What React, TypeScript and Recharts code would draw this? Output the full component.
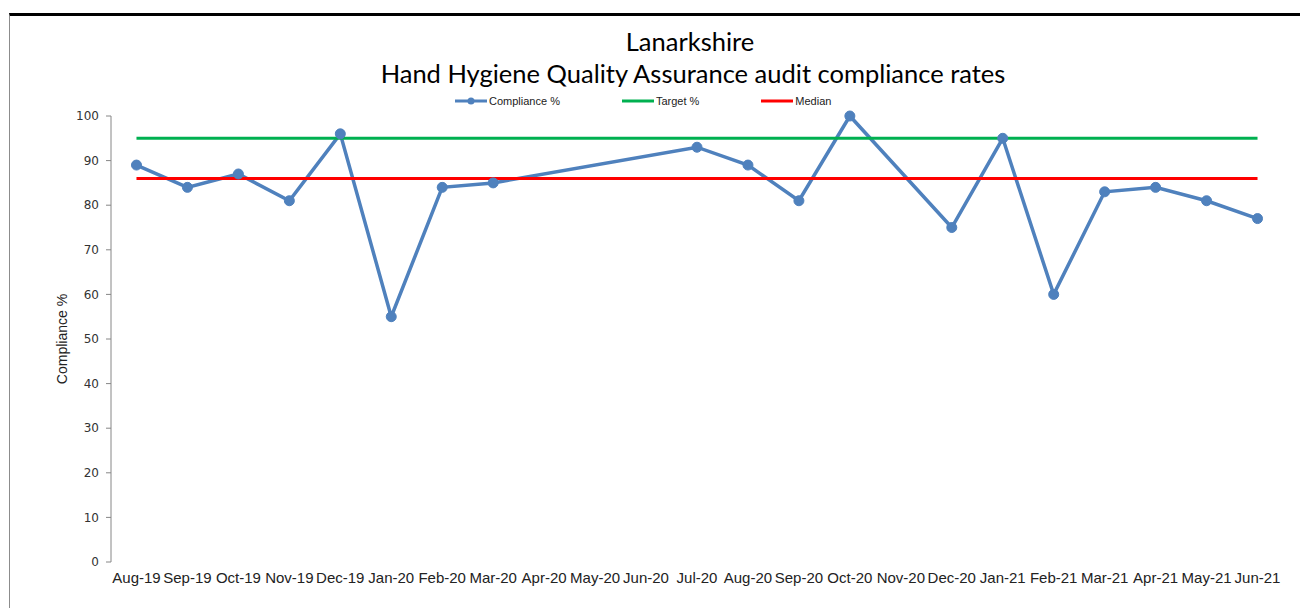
import React from 'react';
import { LineChart, Line, XAxis, YAxis, Legend, Label } from 'recharts';

const categories = [
  'Aug-19', 'Sep-19', 'Oct-19', 'Nov-19', 'Dec-19', 'Jan-20', 'Feb-20', 'Mar-20',
  'Apr-20', 'May-20', 'Jun-20', 'Jul-20', 'Aug-20', 'Sep-20', 'Oct-20', 'Nov-20',
  'Dec-20', 'Jan-21', 'Feb-21', 'Mar-21', 'Apr-21', 'May-21', 'Jun-21',
];
const complianceValues: (number | null)[] = [
  89, 84, 87, 81, 96, 55, 84, 85, null, null, null, 93, 89, 81, 100, null, 75, 95, 60, 83, 84, 81, 77,
];
const targetValue = 95;
const medianValue = 86;
const yTicks = [0, 10, 20, 30, 40, 50, 60, 70, 80, 90, 100];
const seriesNames = ['Compliance %', 'Target %', 'Median'];

const data = categories.map((month, i) => ({
  pos: i + 0.5,
  month,
  compliance: complianceValues[i],
  target: targetValue,
  median: medianValue,
}));

const boundaryTicks = [...categories.map((_, i) => i), categories.length];
const labelTicks = categories.map((_, i) => i + 0.5);

const AXIS_COLOR = '#868686';
const TEXT_COLOR = '#222222';

const LegendContent = (props: any) => {
  const payload = [...(props.payload || [])].sort(
    (a: any, b: any) => seriesNames.indexOf(a.value) - seriesNames.indexOf(b.value)
  );
  return (
    <div style={{ display: 'flex', alignItems: 'center', paddingLeft: 455, height: 16 }}>
      {payload.map((entry: any, idx: number) => (
        <div key={idx} style={{ display: 'flex', alignItems: 'center', marginRight: 62 }}>
          <svg width={33} height={10} style={{ display: 'block' }}>
            <line x1={0} y1={5} x2={32} y2={5} stroke={entry.color} strokeWidth={3} />
            {entry.value === seriesNames[0] && <circle cx={16} cy={5} r={3.5} fill={entry.color} />}
          </svg>
          <span
            style={{
              fontFamily: '"Liberation Sans", Arial, sans-serif',
              fontSize: 11,
              color: TEXT_COLOR,
              marginLeft: 1,
            }}
          >
            {entry.value}
          </span>
        </div>
      ))}
    </div>
  );
};

const YTitle = (props: any) => {
  const vb = props.viewBox || {};
  const cx = 62;
  const cy = vb.y + vb.height / 2;
  return (
    <text
      x={cx}
      y={cy}
      transform={`rotate(-90, ${cx}, ${cy})`}
      textAnchor="middle"
      dominantBaseline="central"
      fontFamily='"Liberation Sans", Arial, sans-serif'
      fontSize={14}
      fill={TEXT_COLOR}
    >
      Compliance %
    </text>
  );
};

export default function App() {
  return (
    <div style={{ position: 'absolute', left: 0, top: 0, width: 1300, height: 608, background: '#fff' }}>
      <div
        style={{
          position: 'absolute',
          left: 9,
          top: 13,
          width: 1291,
          height: 595,
          borderTop: '3px solid #000',
          borderLeft: '1px solid #8c8c8c',
          boxSizing: 'border-box',
        }}
      />
      <svg width={1300} height={100} style={{ position: 'absolute', left: 0, top: 0 }}>
        <text
          x={690}
          y={51}
          textAnchor="middle"
          fontFamily="Lato, 'Open Sans', sans-serif"
          fontSize={25.5}
          fill="#000"
        >
          Lanarkshire
        </text>
        <text
          x={693}
          y={83}
          textAnchor="middle"
          fontFamily="Lato, 'Open Sans', sans-serif"
          fontSize={25.5}
          fill="#000"
        >
          Hand Hygiene Quality Assurance audit compliance rates
        </text>
      </svg>
      <div style={{ position: 'absolute', left: 0, top: 0 }}>
        <LineChart
          width={1300}
          height={608}
          data={data}
          margin={{ top: 116, right: 17, bottom: 16, left: 0 }}
        >
          <XAxis
            xAxisId="ticks"
            type="number"
            dataKey="pos"
            domain={[0, categories.length]}
            ticks={boundaryTicks}
            interval={0}
            tickFormatter={() => ''}
            tickSize={6}
            stroke={AXIS_COLOR}
            height={0}
          />
          <XAxis
            xAxisId="labels"
            type="number"
            dataKey="pos"
            domain={[0, categories.length]}
            ticks={labelTicks}
            interval={0}
            tickFormatter={(v: number) => categories[Math.floor(v)]}
            axisLine={false}
            tickLine={false}
            tickSize={0}
            tickMargin={10}
            height={30}
            tick={{ fontFamily: '"Liberation Sans", Arial, sans-serif', fontSize: 15, fill: TEXT_COLOR }}
          />
          <YAxis
            type="number"
            domain={[0, 100]}
            ticks={yTicks}
            interval={0}
            width={111}
            tickSize={5}
            tickMargin={7}
            stroke={AXIS_COLOR}
            tick={{ fontFamily: '"DejaVu Sans", Verdana, sans-serif', fontSize: 12, fill: '#333' }}
          >
            <Label content={<YTitle />} />
          </YAxis>
          <Legend
            layout="horizontal"
            verticalAlign="middle"
            align="center"
            content={<LegendContent />}
            wrapperStyle={{ position: 'absolute', top: 93, left: 0, width: 1300 }}
          />
          <Line
            xAxisId="ticks"
            name={seriesNames[0]}
            dataKey="compliance"
            stroke="#4F81BD"
            strokeWidth={3.5}
            dot={{ r: 5, fill: '#4F81BD', stroke: '#4F81BD', strokeWidth: 1 }}
            activeDot={false}
            connectNulls
            isAnimationActive={false}
          />
          <Line
            xAxisId="ticks"
            name={seriesNames[1]}
            dataKey="target"
            stroke="#00B050"
            strokeWidth={3}
            dot={false}
            activeDot={false}
            isAnimationActive={false}
          />
          <Line
            xAxisId="ticks"
            name={seriesNames[2]}
            dataKey="median"
            stroke="#FF0000"
            strokeWidth={3}
            dot={false}
            activeDot={false}
            isAnimationActive={false}
          />
        </LineChart>
      </div>
    </div>
  );
}
